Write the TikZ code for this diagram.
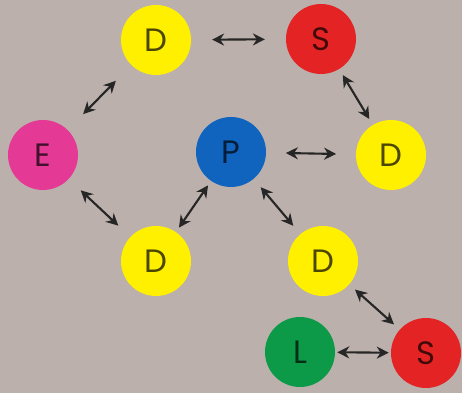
\documentclass[tikz,border=0pt]{standalone}
\usepackage{fontspec}
\setmainfont{Poppins}
\usepackage{tikz}
\usetikzlibrary{arrows.meta}

\definecolor{bgtaupe}{RGB}{187,176,171}
\definecolor{dyellow}{RGB}{255,240,0}
\definecolor{sred}{RGB}{228,36,36}
\definecolor{emagenta}{RGB}{228,58,150}
\definecolor{pblue}{RGB}{16,100,190}
\definecolor{lgreen}{RGB}{12,154,72}

\begin{document}
\begin{tikzpicture}[
  every node/.style={circle, minimum size=1.75cm, inner sep=0pt,
    font=\fontsize{23}{26}\selectfont, text=black, text opacity=0.7},
  edge/.style={{Stealth[length=3mm,width=3mm]}-{Stealth[length=3mm,width=3mm]},
    line width=1.5pt, black!85},
  gap/.style={shorten <=#1, shorten >=#1},
]
  \fill[bgtaupe] (0,0) rectangle (11.55,9.825);
  \useasboundingbox (0,0) rectangle (11.55,9.825);

  \node[fill=dyellow]  (d1) at (3.9, 8.825)  {D};
  \node[fill=sred]     (s1) at (8.025, 8.85) {S};
  \node[fill=emagenta] (e)  at (1.075, 5.95) {E};
  \node[fill=pblue]    (p)  at (5.775, 6.025){P};
  \node[fill=dyellow]  (d2) at (9.775, 5.95) {D};
  \node[fill=dyellow]  (d3) at (3.9, 3.3)    {D};
  \node[fill=dyellow]  (d4) at (8.075, 3.3)  {D};
  \node[fill=lgreen]   (l)  at (7.5, 1.025)  {L};
  \node[fill=sred]     (s2) at (10.65, 1.0)  {S};

  \draw[edge, gap=0.52cm] (d1) -- (s1);
  \draw[edge, gap=0.55cm] (d1) -- (e);
  \draw[edge, gap=0.17cm] (s1) -- (d2);
  \draw[edge, gap=0.49cm] (p)  -- (d2);
  \draw[edge, gap=0.41cm] (e)  -- (d3);
  \draw[edge, gap=0.13cm] (p)  -- (d3);
  \draw[edge, gap=0.27cm] (p)  -- (d4);
  \draw[edge, gap=0.19cm] (d4) -- (s2);
  \draw[edge, gap=0.05cm] (l)  -- (s2);
\end{tikzpicture}
\end{document}
